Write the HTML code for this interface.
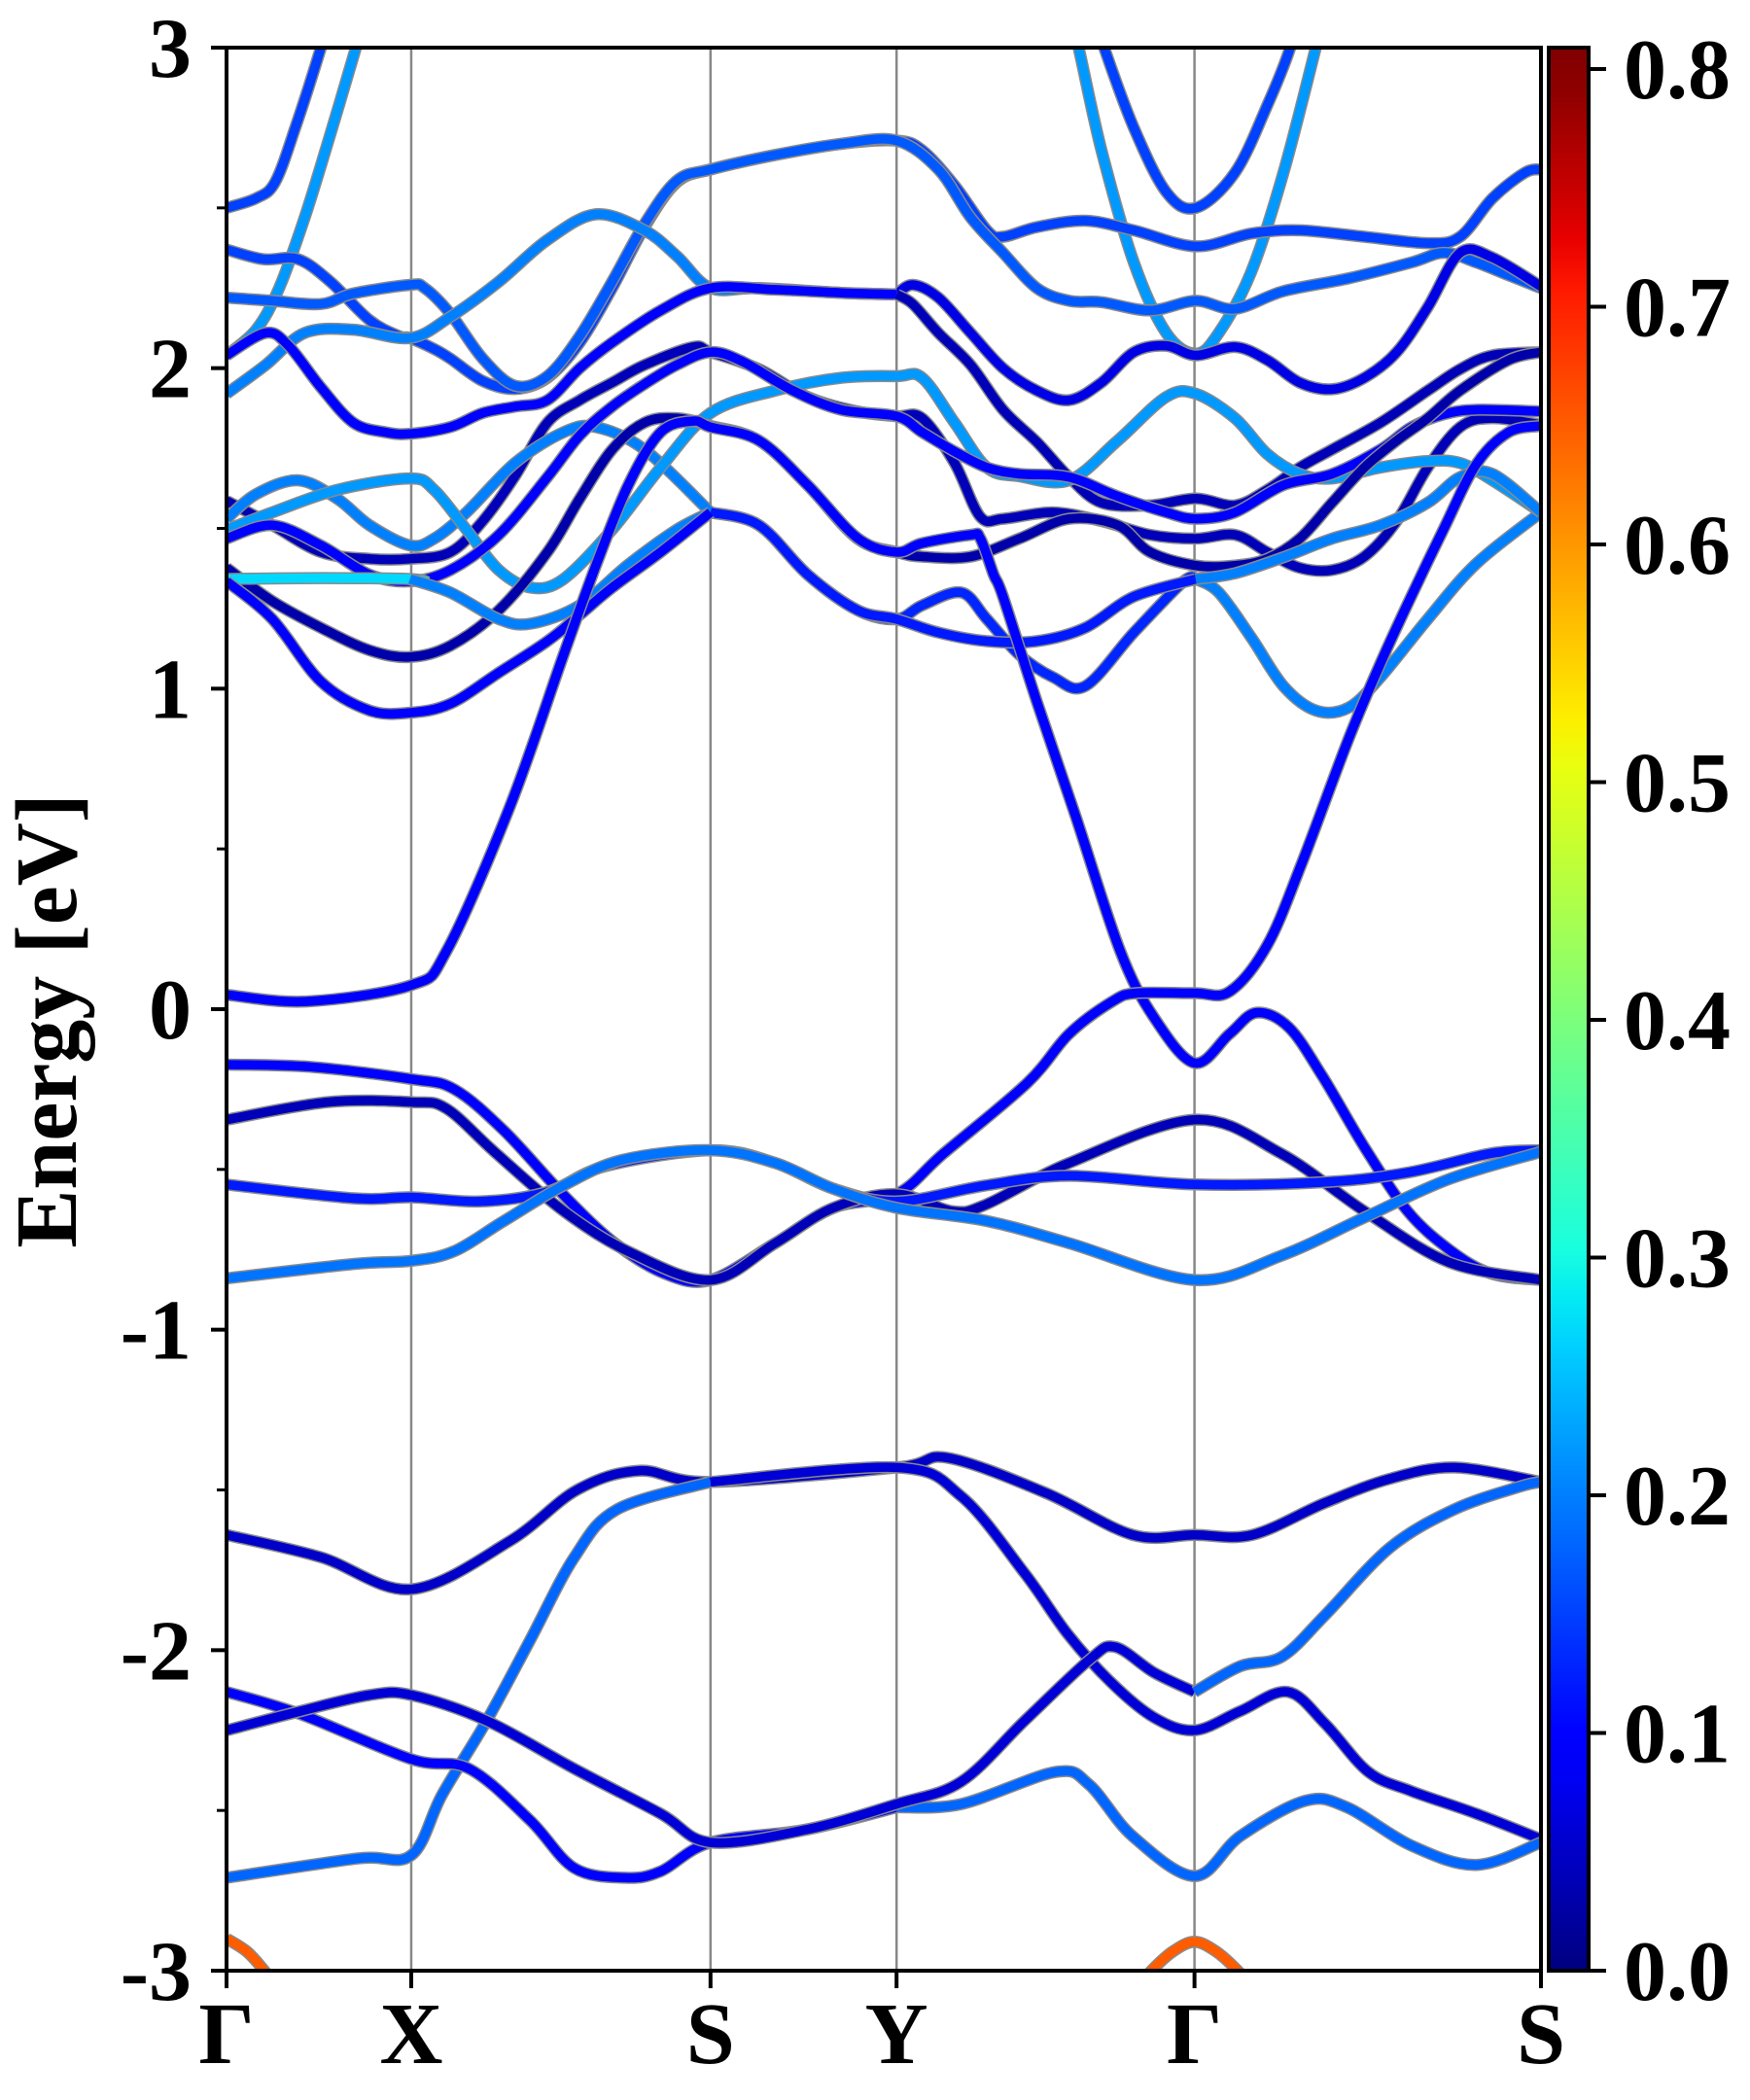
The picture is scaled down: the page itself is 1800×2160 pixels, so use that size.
<!DOCTYPE html>
<html><head><meta charset="utf-8">
<style>
html,body{margin:0;padding:0;background:#fff;}
svg{display:block;}
text{font-family:"Liberation Serif","DejaVu Serif",serif;font-weight:bold;fill:#000;}
</style></head>
<body>
<svg id="chart" width="1800" height="2160" viewBox="0 0 1800 2160" xmlns="http://www.w3.org/2000/svg">
<defs>
<clipPath id="plotclip"><rect x="233" y="49" width="1352" height="1978"/></clipPath>
<linearGradient id="jetgrad" x1="0" y1="1" x2="0" y2="0"></linearGradient>
</defs>
<rect x="0" y="0" width="1800" height="2160" fill="#fff"/>
<g id="vlines"></g>
<g id="bands" clip-path="url(#plotclip)"></g>
<rect x="233" y="49" width="1352" height="1978" fill="none" stroke="#000" stroke-width="4"/>
<g id="yticks"></g>
<g id="xticks"></g>
<text x="0" y="0" transform="translate(78,1050) rotate(-90)" text-anchor="middle" font-size="90">Energy [eV]</text>
<rect x="1593" y="49" width="41" height="1978" fill="url(#jetgrad)" stroke="#000" stroke-width="4"/>
<g id="cticks"></g>
</svg>
<script>
const kTicks = [0, 1.37, 3.59, 4.97, 7.18, 9.75];
const kLabels = ["Γ", "X", "S", "Y", "Γ", "S"];
const eTicks = [-3, -2, -1, 0, 1, 2, 3];
const eMinorTicks = [-2.5, -1.5, -0.5, 0.5, 1.5, 2.5];
const cTicks = [0.0, 0.1, 0.2, 0.3, 0.4, 0.5, 0.6, 0.7, 0.8];
const cLabels = ["0.0", "0.1", "0.2", "0.3", "0.4", "0.5", "0.6", "0.7", "0.8"];
const cMax = 0.809;

// weight (projection) of each band segment
const bandWeights = [
 0.15, 0.15, 0.22, 0.22, 0.15, 0.17, 0.2, 0.07, 0.1, 0.04, 0.04, 0.2, 0.13, 0.2, 0.22, 0.1, 0.03, 0.27, 0.2, 0.12, 0.2, 0.1, 0.1,
 0.1, 0.04, 0.12, 0.19, 0.05, 0.18, 0.06, 0.1, 0.18, 0.06, 0.18, 0.65, 0.65
];
// [k, E] points of each band segment
const bandPoints = [
 [[0,2.50],[0.22,2.53],[0.36,2.58],[0.51,2.75],[0.70,3.00],[0.80,3.15]],
 [[6.40,3.15],[6.51,3.00],[6.73,2.75],[6.97,2.55],[7.19,2.50],[7.48,2.61],[7.72,2.82],[7.89,3.00],[7.98,3.15]],
 [[0,2.04],[0.22,2.12],[0.39,2.25],[0.58,2.47],[0.77,2.73],[0.96,3.00],[1.05,3.13]],
 [[6.24,3.13],[6.32,3.00],[6.49,2.68],[6.73,2.33],[6.97,2.11],[7.19,2.045],[7.36,2.11],[7.60,2.30],[7.84,2.61],[8.08,3.00],[8.15,3.12]],
 [[0,2.37],[0.27,2.34],[0.53,2.34],[0.77,2.27],[1.06,2.15],[1.28,2.10],[1.36,2.094],[1.54,2.06],[1.66,2.03],[1.90,1.96],[2.14,1.935],[2.38,1.97],[2.62,2.08],[2.86,2.25],[3.10,2.44],[3.34,2.58],[3.59,2.62],[4.07,2.665],[4.56,2.70],[4.97,2.71],[5.16,2.68],[5.40,2.57],[5.64,2.43],[5.76,2.41],[6.01,2.44],[6.37,2.46],[6.73,2.43],[7.19,2.38],[7.60,2.42],[7.96,2.43],[8.44,2.41],[8.91,2.39],[9.15,2.41],[9.39,2.53],[9.63,2.61],[9.75,2.62]],
 [[0,2.22],[0.34,2.21],[0.70,2.20],[0.94,2.233],[1.36,2.26],[1.47,2.25],[1.66,2.17],[1.90,2.03],[2.14,1.945],[2.38,1.975],[2.62,2.10],[2.86,2.27],[3.10,2.45],[3.34,2.585],[3.59,2.62],[4.07,2.665],[4.56,2.70],[4.97,2.71],[5.28,2.62],[5.52,2.47],[5.76,2.36],[6.01,2.25],[6.25,2.21],[6.49,2.206],[6.85,2.18],[7.19,2.21],[7.48,2.185],[7.84,2.24],[8.32,2.28],[8.79,2.33],[9.03,2.36],[9.27,2.33],[9.51,2.29],[9.75,2.25]],
 [[0,1.92],[0.29,2.01],[0.58,2.11],[0.94,2.12],[1.36,2.094],[1.66,2.16],[2.02,2.27],[2.38,2.40],[2.74,2.48],[3.10,2.43],[3.34,2.35],[3.59,2.25],[3.95,2.25],[4.56,2.235],[4.97,2.23]],
 [[4.97,2.23],[5.09,2.26],[5.28,2.22],[5.52,2.11],[5.76,2.00],[6.01,1.93],[6.25,1.90],[6.49,1.955],[6.73,2.05],[6.97,2.07],[7.19,2.04],[7.48,2.066],[7.72,2.025],[7.96,1.955],[8.20,1.934],[8.44,1.97],[8.68,2.05],[8.91,2.19],[9.15,2.36],[9.39,2.345],[9.75,2.255]],
 [[0,2.04],[0.29,2.11],[0.46,2.07],[0.70,1.94],[0.94,1.83],[1.18,1.80],[1.36,1.795],[1.66,1.816],[1.90,1.86],[2.14,1.88],[2.38,1.90],[2.62,2.00],[2.86,2.08],[3.22,2.18],[3.59,2.25],[4.07,2.245],[4.56,2.235],[4.97,2.23]],
 [[4.97,2.23],[5.09,2.20],[5.28,2.11],[5.52,2.01],[5.76,1.87],[6.01,1.77],[6.25,1.66],[6.49,1.58],[6.85,1.572],[7.19,1.593],[7.48,1.572],[7.72,1.62],[7.96,1.69],[8.20,1.746],[8.56,1.83],[8.91,1.93],[9.15,1.997],[9.39,2.04],[9.75,2.05]],
 [[0,1.586],[0.34,1.51],[0.70,1.426],[1.06,1.405],[1.36,1.405],[1.66,1.426],[1.90,1.523],[2.14,1.663],[2.38,1.83],[2.62,1.90],[2.86,1.955],[3.10,2.01],[3.46,2.066],[3.59,2.05],[3.95,1.997],[4.31,1.91],[4.68,1.865],[4.97,1.85],[5.16,1.844],[5.40,1.704],[5.59,1.537],[5.76,1.53],[6.13,1.55],[6.49,1.523],[6.85,1.48],[7.19,1.468],[7.48,1.48],[7.72,1.426],[7.96,1.377],[8.20,1.37],[8.44,1.412],[8.68,1.523],[8.91,1.69],[9.15,1.816],[9.39,1.844],[9.75,1.823]],
 [[0,1.53],[0.22,1.607],[0.53,1.65],[0.82,1.593],[1.06,1.51],[1.36,1.447],[1.54,1.468],[1.78,1.55],[2.14,1.704],[2.50,1.80],[2.74,1.816],[3.10,1.746],[3.59,1.55]],
 [[3.59,1.55],[3.95,1.51],[4.31,1.356],[4.68,1.245],[4.97,1.217],[5.16,1.26],[5.45,1.30],[5.64,1.217],[5.88,1.106],[6.13,1.036],[6.37,1.008],[6.73,1.175],[7.10,1.335],[7.19,1.342]],
 [[7.19,1.342],[7.36,1.30],[7.60,1.16],[7.84,1.008],[8.08,0.932],[8.32,0.94],[8.56,1.036],[8.91,1.217],[9.27,1.39],[9.75,1.55]],
 [[0,1.496],[0.34,1.55],[0.82,1.62],[1.36,1.656],[1.54,1.62],[1.78,1.496],[2.02,1.37],[2.26,1.315],[2.50,1.342],[2.86,1.496],[3.22,1.69],[3.59,1.86],[4.07,1.93],[4.56,1.97],[4.97,1.975],[5.16,1.97],[5.40,1.83],[5.64,1.69],[5.88,1.663],[6.25,1.65],[6.61,1.774],[6.97,1.91],[7.19,1.92],[7.48,1.844],[7.72,1.732],[7.96,1.67],[8.20,1.656],[8.56,1.69],[8.91,1.71],[9.15,1.704],[9.39,1.65],[9.75,1.55]],
 [[0,1.468],[0.34,1.51],[0.70,1.447],[1.06,1.356],[1.36,1.335],[1.66,1.37],[2.02,1.48],[2.38,1.66],[2.62,1.79],[2.86,1.88],[3.10,1.95],[3.34,2.01],[3.59,2.05],[3.83,2.02],[4.20,1.93],[4.56,1.87],[4.97,1.85],[5.16,1.80],[5.40,1.74],[5.64,1.69],[5.88,1.67],[6.25,1.66],[6.61,1.60],[6.97,1.55],[7.19,1.53],[7.48,1.55],[7.84,1.635],[8.20,1.67],[8.56,1.746],[8.79,1.816],[9.03,1.856],[9.27,1.87],[9.75,1.865]],
 [[0,1.377],[0.34,1.273],[0.70,1.19],[1.06,1.12],[1.36,1.099],[1.66,1.134],[2.02,1.245],[2.38,1.426],[2.62,1.593],[2.86,1.746],[3.10,1.83],[3.34,1.844],[3.59,1.82],[3.95,1.774],[4.31,1.635],[4.68,1.468],[4.97,1.426],[5.16,1.412],[5.52,1.412],[5.88,1.468],[6.25,1.53],[6.61,1.51],[6.85,1.426],[7.19,1.384],[7.48,1.384],[7.72,1.405],[7.96,1.468],[8.20,1.58],[8.44,1.69],[8.68,1.774],[8.91,1.844],[9.15,1.93],[9.51,2.025],[9.75,2.05]],
 [[0,1.342],[0.70,1.345],[1.36,1.342],[1.50,1.33]],
 [[1.36,1.342],[1.66,1.30],[2.02,1.217],[2.26,1.203],[2.62,1.26],[2.98,1.387],[3.34,1.496],[3.59,1.55]],
 [[3.59,1.55],[3.95,1.51],[4.31,1.356],[4.68,1.245],[4.97,1.217],[5.28,1.175],[5.64,1.148],[6.01,1.148],[6.37,1.19],[6.73,1.287],[7.19,1.342]],
 [[7.19,1.342],[7.48,1.36],[7.84,1.41],[8.20,1.468],[8.56,1.51],[8.91,1.58],[9.15,1.66],[9.39,1.67],[9.75,1.55]],
 [[0,1.335],[0.34,1.217],[0.70,1.022],[1.06,0.932],[1.36,0.925],[1.66,0.953],[2.02,1.05],[2.38,1.148],[2.62,1.23],[2.86,1.315],[3.22,1.426],[3.59,1.55]],
 [[0,0.045],[0.59,0.024],[1.37,0.075],[1.63,0.18],[2.10,0.63],[2.50,1.106],[2.74,1.384],[2.98,1.635],[3.22,1.80],[3.46,1.835],[3.59,1.816],[3.95,1.774],[4.31,1.635],[4.68,1.47],[4.97,1.426],[5.16,1.454],[5.52,1.48],[5.59,1.47],[5.69,1.356],[5.76,1.287],[6.01,0.96],[6.30,0.60],[6.63,0.18],[6.88,-0.026],[7.18,-0.168],[7.44,-0.077],[7.64,-0.011],[7.88,-0.057],[8.13,-0.21],[8.44,-0.43],[8.76,-0.63],[9.07,-0.75],[9.38,-0.825],[9.75,-0.845]],
 [[0,-0.173],[0.62,-0.18],[1.37,-0.218],[1.69,-0.25],[2.06,-0.38],[2.50,-0.58],[2.88,-0.73],[3.25,-0.825],[3.59,-0.845],[4.07,-0.73],[4.50,-0.62],[4.97,-0.577],[5.32,-0.45],[5.94,-0.23],[6.25,-0.077],[6.57,0.024],[6.75,0.05],[7.18,0.05],[7.44,0.055],[7.72,0.20],[7.98,0.46],[8.32,0.84],[8.56,1.08],[8.79,1.29],[9.03,1.50],[9.27,1.70],[9.51,1.80],[9.75,1.82]],
 [[0,-0.345],[0.75,-0.29],[1.37,-0.29],[1.63,-0.31],[2.00,-0.45],[2.50,-0.63],[3.00,-0.76],[3.59,-0.845],[4.07,-0.73],[4.50,-0.62],[4.97,-0.577],[5.38,-0.63],[5.63,-0.61],[6.25,-0.48],[7.18,-0.345],[7.82,-0.45],[8.44,-0.63],[9.07,-0.79],[9.75,-0.845]],
 [[0,-0.547],[0.94,-0.59],[1.37,-0.587],[1.88,-0.60],[2.38,-0.57],[2.81,-0.49],[3.59,-0.44],[4.07,-0.48],[4.50,-0.56],[4.97,-0.60],[5.63,-0.55],[6.25,-0.52],[7.18,-0.547],[8.13,-0.54],[8.76,-0.51],[9.38,-0.45],[9.75,-0.44]],
 [[0,-0.84],[0.94,-0.795],[1.37,-0.785],[1.69,-0.755],[2.06,-0.66],[2.50,-0.55],[2.94,-0.47],[3.59,-0.44],[4.07,-0.48],[4.50,-0.56],[4.97,-0.62],[5.63,-0.66],[6.25,-0.73],[7.18,-0.845],[7.82,-0.77],[8.44,-0.65],[9.07,-0.53],[9.75,-0.445]],
 [[0,-1.64],[0.70,-1.71],[1.37,-1.81],[2.10,-1.66],[2.60,-1.50],[3.06,-1.44],[3.59,-1.475],[4.97,-1.43],[5.35,-1.40],[6.08,-1.51],[6.72,-1.64],[7.18,-1.64],[7.61,-1.64],[8.15,-1.54],[8.63,-1.465],[9.11,-1.43],[9.75,-1.475]],
 [[0,-2.71],[0.97,-2.65],[1.37,-2.64],[1.60,-2.45],[1.93,-2.22],[2.25,-1.97],[2.58,-1.71],[2.90,-1.56],[3.59,-1.475]],
 [[3.59,-1.475],[4.97,-1.43],[5.45,-1.52],[5.92,-1.76],[6.24,-1.95],[6.56,-2.10],[6.88,-2.21],[7.18,-2.25],[7.52,-2.19],[7.87,-2.13],[8.15,-2.23],[8.47,-2.38],[8.79,-2.44],[9.27,-2.51],[9.75,-2.59]],
 [[0,-2.13],[0.55,-2.20],[1.37,-2.34],[1.80,-2.37],[2.25,-2.53],[2.58,-2.68],[2.96,-2.71],[3.22,-2.69],[3.59,-2.60],[4.30,-2.56],[4.97,-2.49]],
 [[4.97,-2.49],[5.45,-2.48],[6.15,-2.38],[6.40,-2.42],[6.72,-2.58],[7.18,-2.705],[7.52,-2.58],[8.00,-2.47],[8.31,-2.49],[8.79,-2.61],[9.27,-2.67],[9.75,-2.60]],
 [[0,-2.25],[0.55,-2.19],[1.06,-2.14],[1.37,-2.14],[1.93,-2.22],[2.58,-2.37],[3.22,-2.51],[3.59,-2.60],[4.30,-2.56],[4.97,-2.48],[5.45,-2.41],[5.92,-2.22],[6.40,-2.03],[6.59,-1.99],[6.88,-2.07],[7.18,-2.13]],
 [[7.18,-2.13],[7.52,-2.05],[7.83,-2.02],[8.15,-1.89],[8.63,-1.68],[9.11,-1.56],[9.59,-1.49],[9.75,-1.475]],
 [[0,-2.90],[0.15,-2.94],[0.28,-3.0],[0.40,-3.07]],
 [[6.72,-3.07],[6.86,-3.0],[7.02,-2.94],[7.18,-2.91],[7.34,-2.94],[7.50,-3.0],[7.64,-3.07]]
];

const X0 = 233, X1 = 1585, Y0 = 49, Y1 = 2027;
const kMax = 9.75, eMin = -3, eMax = 3;
function xs(k){ return X0 + (k / kMax) * (X1 - X0); }
function ys(e){ return Y1 - (e - eMin) / (eMax - eMin) * (Y1 - Y0); }
function jetChan(x, pts){
  for (let i = 0; i < pts.length - 1; i++){
    const a = pts[i], b = pts[i+1];
    if (x >= a[0] && x <= b[0]) return a[1] + (b[1]-a[1]) * (x - a[0]) / (b[0]-a[0]);
  }
  return x < pts[0][0] ? pts[0][1] : pts[pts.length-1][1];
}
function jet(x){
  x = Math.max(0, Math.min(1, x));
  const r = jetChan(x, [[0,0],[0.35,0],[0.66,1],[0.89,1],[1,0.5]]);
  const g = jetChan(x, [[0,0],[0.125,0],[0.375,1],[0.64,1],[0.91,0],[1,0]]);
  const b = jetChan(x, [[0,0.5],[0.11,1],[0.34,1],[0.65,0],[1,0]]);
  const h = v => Math.round(v*255).toString(16).padStart(2,'0');
  return '#' + h(r) + h(g) + h(b);
}
function pathFor(pts){
  const p = pts.map(q => [xs(q[0]), ys(q[1])]);
  let d = 'M' + p[0][0].toFixed(1) + ',' + p[0][1].toFixed(1);
  for (let i = 0; i < p.length - 1; i++){
    const p0 = p[i-1] || p[i], p1 = p[i], p2 = p[i+1], p3 = p[i+2] || p[i+1];
    const c1x = p1[0] + (p2[0]-p0[0])/6, c1y = p1[1] + (p2[1]-p0[1])/6;
    const c2x = p2[0] - (p3[0]-p1[0])/6, c2y = p2[1] - (p3[1]-p1[1])/6;
    d += ' C' + c1x.toFixed(1) + ',' + c1y.toFixed(1) + ' ' + c2x.toFixed(1) + ',' + c2y.toFixed(1) + ' ' + p2[0].toFixed(1) + ',' + p2[1].toFixed(1);
  }
  return d;
}
const NS = 'http://www.w3.org/2000/svg';
function mk(tag, attrs, parent){
  const el = document.createElementNS(NS, tag);
  for (const a in attrs) el.setAttribute(a, attrs[a]);
  parent.appendChild(el);
  return el;
}
const vg = document.getElementById('vlines');
kTicks.forEach((k, i) => {
  if (i === 0 || i === kTicks.length - 1) return;
  const ln = mk('line', {x1: xs(k), x2: xs(k), y1: Y0, y2: Y1, stroke: '#888', 'stroke-width': 2.5}, vg);
  
  
});
const bg = document.getElementById('bands');
bandPoints.forEach((pts, i) => {
  const d = pathFor(pts);
  const o = mk('path', {d: d, fill: 'none', stroke: '#8a8a8a', 'stroke-width': 12.5, 'stroke-linecap': 'butt', 'stroke-linejoin': 'round'}, bg);
  
  
  const c = mk('path', {d: d, fill: 'none', stroke: jet(bandWeights[i] / 0.8), 'stroke-width': 9.5, 'stroke-linecap': 'butt', 'stroke-linejoin': 'round'}, bg);
  
  
});
const yg = document.getElementById('yticks');
eTicks.forEach(e => {
  const t = mk('line', {x1: X0 - 16, x2: X0, y1: ys(e), y2: ys(e), stroke: '#000', 'stroke-width': 4}, yg);
  
  
  const l = mk('text', {x: 197, y: ys(e) + 30, 'text-anchor': 'end', 'font-size': 88}, yg);
  l.textContent = String(e);
  
  
});
eMinorTicks.forEach(e => {
  const t = mk('line', {x1: X0 - 10, x2: X0, y1: ys(e), y2: ys(e), stroke: '#000', 'stroke-width': 3}, yg);
  
  
});
const xg = document.getElementById('xticks');
kTicks.forEach((k, i) => {
  const t = mk('line', {x1: xs(k), x2: xs(k), y1: Y1, y2: Y1 + 18, stroke: '#000', 'stroke-width': 4}, xg);
  
  
  const l = mk('text', {x: xs(k), y: 2122, 'text-anchor': 'middle', 'font-size': 90}, xg);
  l.textContent = kLabels[i];
  
  
});
const grad = document.getElementById('jetgrad');
for (let s = 0; s <= 40; s++){
  const f = s / 40;
  mk('stop', {offset: f, 'stop-color': jet(f * cMax / 0.8)}, grad);
}
const cg = document.getElementById('cticks');
cTicks.forEach((v, i) => {
  const y = Y1 - v / cMax * (Y1 - Y0);
  const t = mk('line', {x1: 1634, x2: 1652, y1: y, y2: y, stroke: '#000', 'stroke-width': 4}, cg);
  
  
  const l = mk('text', {x: 1670, y: y + 30, 'font-size': 88}, cg);
  l.textContent = cLabels[i];
  
  
});
</script>
</body></html>
